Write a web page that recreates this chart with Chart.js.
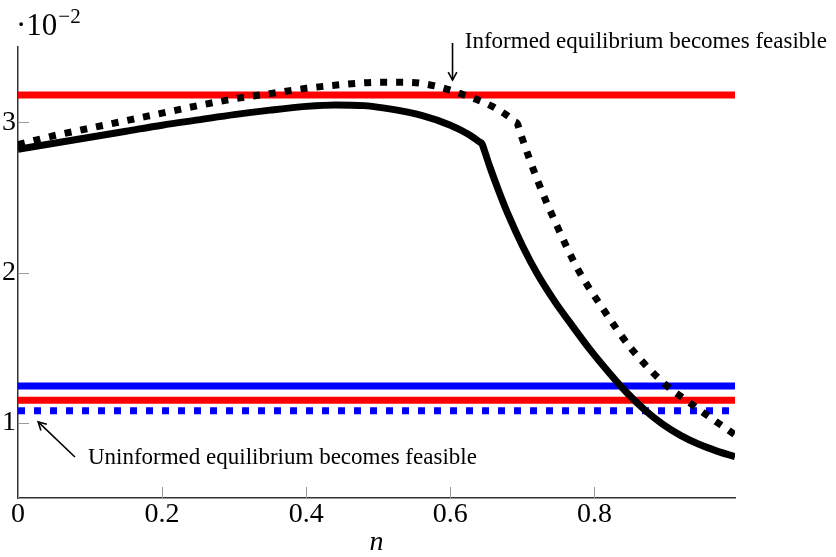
<!DOCTYPE html>
<html>
<head>
<meta charset="utf-8">
<script src="https://cdn.jsdelivr.net/npm/chart.js@4"></script>
<style>
    html, body { margin: 0; padding: 0; background: #fff; }
    #wrap { width: 836px; height: 557px; }
</style>
</head>
<body>
<div id="wrap"><canvas id="chart" width="836" height="557"></canvas></div>
<script>
// values in units of 10^-2
const solidN = [0, 0.05, 0.1, 0.15, 0.2, 0.25, 0.3, 0.35, 0.4, 0.44, 0.48, 0.52, 0.56, 0.6, 0.625, 0.64, 0.644,
    0.648, 0.655, 0.667, 0.68, 0.7, 0.72, 0.745, 0.77, 0.795, 0.82, 0.845, 0.87, 0.895, 0.92, 0.945, 0.97, 0.995]
const solidV = [2.82, 2.86, 2.9, 2.94, 2.98, 3.015, 3.05, 3.08, 3.105, 3.115, 3.11, 3.085, 3.045, 2.98, 2.92, 2.87, 2.855,
    2.8, 2.7, 2.544, 2.388, 2.178, 1.996, 1.806, 1.64, 1.48, 1.335, 1.2, 1.085, 0.99, 0.915, 0.857, 0.812, 0.775]

const dottedN = [0, 0.05, 0.1, 0.15, 0.2, 0.25, 0.3, 0.35, 0.4, 0.45, 0.5, 0.54, 0.58, 0.614, 0.656, 0.68,
    0.689, 0.693, 0.697, 0.722, 0.748, 0.776, 0.813, 0.85, 0.896, 0.933, 0.995]
const dottedV = [2.85, 2.91, 2.96, 3.01, 3.06, 3.11, 3.155, 3.19, 3.225, 3.25, 3.265, 3.265, 3.24, 3.19, 3.11, 3.04,
    3.005, 2.99, 2.93, 2.6, 2.31, 2.03, 1.75, 1.5, 1.265, 1.13, 0.92]

const nRange = [0, 0.995]
const redTop = 3.18
const blueSolid = 1.245
const redLow = 1.15
const blueDotted = 1.08

const xTicks = [0, 0.2, 0.4, 0.6, 0.8]
const yTicks = [1, 2, 3]

const informedText = 'Informed equilibrium becomes feasible'
const uninformedText = 'Uninformed equilibrium becomes feasible'

const serif = "'Liberation Serif', 'DejaVu Serif', serif"

const toPoints = (xs, ys) => xs.map((x, i) => ({ x: x, y: ys[i] }))
const flat = (v) => nRange.map((x) => ({ x: x, y: v }))

function arrow(ctx, x1, y1, x2, y2) {
    const a = Math.atan2(y2 - y1, x2 - x1)
    const h = 9
    ctx.beginPath()
    ctx.moveTo(x1, y1)
    ctx.lineTo(x2, y2)
    ctx.stroke()
    ctx.beginPath()
    ctx.moveTo(x2 - h * Math.cos(a - 0.5), y2 - h * Math.sin(a - 0.5))
    ctx.lineTo(x2, y2)
    ctx.lineTo(x2 - h * Math.cos(a + 0.5), y2 - h * Math.sin(a + 0.5))
    ctx.stroke()
}

// inner tick marks, exponent label and the two notes
const extras = {
    id: 'extras',
    afterDraw(chart) {
        const ctx = chart.ctx
        const xs = chart.scales.x
        const ys = chart.scales.y
        const area = chart.chartArea
        ctx.save()
        ctx.strokeStyle = '#999'
        ctx.lineWidth = 1
        xTicks.forEach((t) => {
            const px = Math.round(xs.getPixelForValue(t)) + 0.5
            ctx.beginPath()
            ctx.moveTo(px, area.bottom)
            ctx.lineTo(px, area.bottom - 11)
            ctx.stroke()
        })
        yTicks.forEach((t) => {
            const py = Math.round(ys.getPixelForValue(t)) + 0.5
            ctx.beginPath()
            ctx.moveTo(area.left, py)
            ctx.lineTo(area.left + 11, py)
            ctx.stroke()
        })

        ctx.fillStyle = '#000'
        ctx.textBaseline = 'alphabetic'
        ctx.textAlign = 'left'
        ctx.font = '31px ' + serif
        ctx.fillText('·10', area.left - 2, 35)
        const w = ctx.measureText('·10').width
        ctx.font = '21px ' + serif
        ctx.fillText('−2', area.left - 2 + w + 1, 23)

        ctx.strokeStyle = '#000'
        ctx.lineWidth = 1.6
        arrow(ctx, xs.getPixelForValue(0.603), ys.getPixelForValue(3.527),
            xs.getPixelForValue(0.603), ys.getPixelForValue(3.28))
        arrow(ctx, xs.getPixelForValue(0.079), ys.getPixelForValue(0.773),
            xs.getPixelForValue(0.028), ys.getPixelForValue(1.006))

        ctx.font = '23px ' + serif
        ctx.fillText(informedText, xs.getPixelForValue(0.62), ys.getPixelForValue(3.494))
        ctx.fillText(uninformedText, xs.getPixelForValue(0.097), ys.getPixelForValue(0.726))
        ctx.restore()
    },
}

const lineStyle = {
    showLine: true,
    pointRadius: 0,
    borderWidth: 7,
    cubicInterpolationMode: 'monotone',
    fill: false,
    borderCapStyle: 'butt',
    borderJoinStyle: 'miter',
}

new Chart(document.getElementById('chart').getContext('2d'), {
    type: 'scatter',
    data: {
        datasets: [
            { ...lineStyle, data: toPoints(solidN, solidV), borderColor: '#000', order: 0 },
            { ...lineStyle, data: toPoints(dottedN, dottedV), borderColor: '#000', borderDash: [7, 9], order: 1 },
            { ...lineStyle, data: flat(redTop), borderColor: '#ff0000', order: 2 },
            { ...lineStyle, data: flat(blueSolid), borderColor: '#0000ff', order: 3 },
            { ...lineStyle, data: flat(redLow), borderColor: '#ff0000', order: 4 },
            { ...lineStyle, data: flat(blueDotted), borderColor: '#0000ff', borderDash: [7, 9], order: 5 },
        ],
    },
    options: {
        responsive: false,
        animation: false,
        layout: { padding: { left: 1, top: 47, right: 101, bottom: 0 } },
        plugins: { legend: { display: false }, tooltip: { enabled: false } },
        scales: {
            x: {
                type: 'linear',
                min: nRange[0],
                max: nRange[1],
                afterBuildTicks: (s) => { s.ticks = xTicks.map((v) => ({ value: v })) },
                afterFit: (s) => { s.height = 59 },
                grid: { display: false, drawTicks: false },
                border: { display: true, color: '#333', width: 1.5 },
                ticks: {
                    color: '#000',
                    padding: 3,
                    maxRotation: 0,
                    font: { family: serif, size: 28, lineHeight: 1 },
                    callback: (v) => String(v),
                },
                title: {
                    display: true,
                    text: 'n',
                    color: '#000',
                    padding: { top: 0, bottom: 0 },
                    font: { family: serif, size: 28, style: 'italic', lineHeight: 1 },
                },
            },
            y: {
                type: 'linear',
                min: 0.5,
                max: 3.5,
                afterBuildTicks: (s) => { s.ticks = yTicks.map((v) => ({ value: v })) },
                afterFit: (s) => { s.width = 17 },
                grid: { display: false, drawTicks: false },
                border: { display: true, color: '#333', width: 1.5 },
                ticks: {
                    color: '#000',
                    padding: 2,
                    font: { family: serif, size: 28, lineHeight: 1 },
                    callback: (v) => String(v),
                },
            },
        },
    },
    plugins: [extras],
})
</script>
</body>
</html>
